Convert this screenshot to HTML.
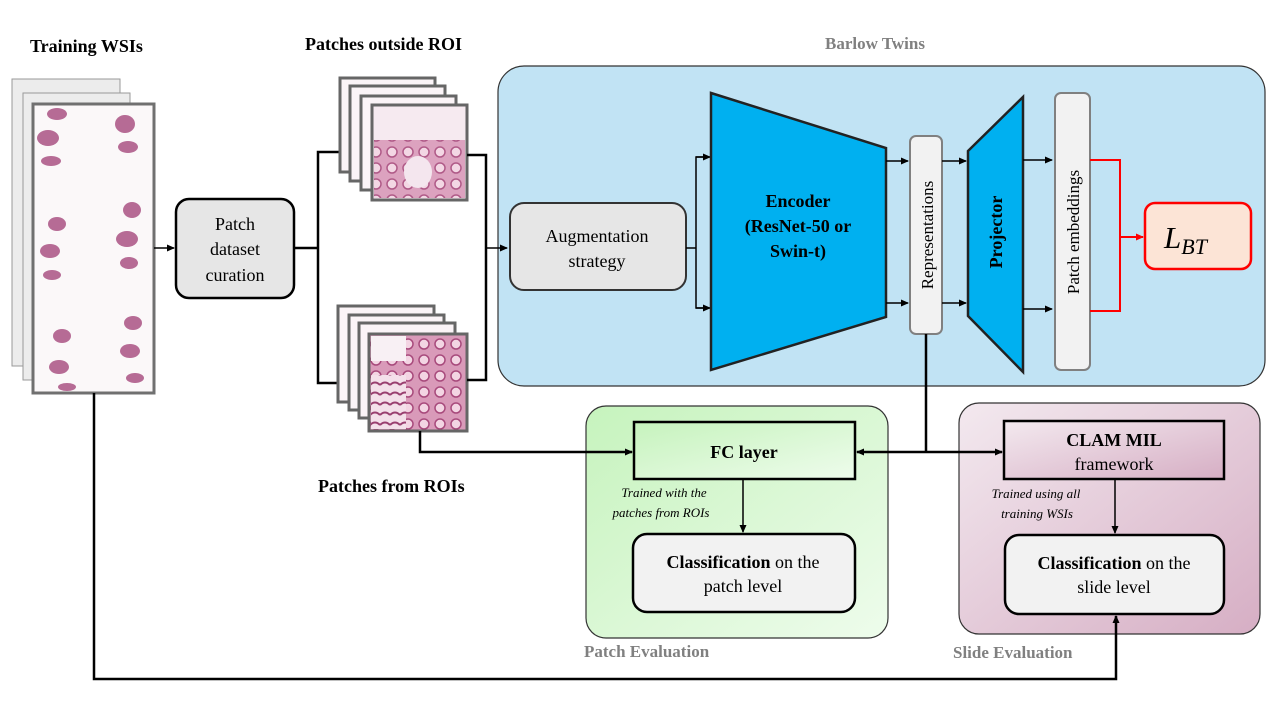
<!DOCTYPE html>
<html><head><meta charset="utf-8"><style>
html,body{margin:0;padding:0;background:#fff;}
svg text{font-family:"Liberation Serif",serif;}
</style></head><body>
<svg width="1280" height="720" viewBox="0 0 1280 720" xmlns="http://www.w3.org/2000/svg">
<defs>
<marker id="ar" markerWidth="8" markerHeight="8" refX="7" refY="4" orient="auto" markerUnits="userSpaceOnUse"><path d="M0,0.5 L8,4 L0,7.5 z" fill="#000"/></marker>
<marker id="arr" markerWidth="8" markerHeight="8" refX="7" refY="4" orient="auto" markerUnits="userSpaceOnUse"><path d="M0,0.5 L8,4 L0,7.5 z" fill="#f00"/></marker>
<linearGradient id="gg" x1="0" y1="0" x2="1" y2="1"><stop offset="0" stop-color="#c6f3bd"/><stop offset="1" stop-color="#eefcec"/></linearGradient>
<linearGradient id="gp" x1="0" y1="0" x2="1" y2="1"><stop offset="0" stop-color="#f3e9ef"/><stop offset="1" stop-color="#d6aec4"/></linearGradient>
<pattern id="tis" width="16" height="16" patternUnits="userSpaceOnUse"><rect width="16" height="16" fill="#d99ab9"/><circle cx="8" cy="8" r="5" fill="#f3d5e3" stroke="#a84a7c" stroke-width="1.5"/></pattern>
<pattern id="tis2" width="10" height="10" patternUnits="userSpaceOnUse"><rect width="10" height="10" fill="#f4e0ea"/><path d="M0,5 Q5,0 10,5" stroke="#9a3f70" fill="none" stroke-width="2"/></pattern>
</defs>

<text x="30" y="52" font-size="18" font-weight="bold">Training WSIs</text>
<text x="305" y="50" font-size="18" font-weight="bold">Patches outside ROI</text>
<text x="318" y="492" font-size="18" font-weight="bold">Patches from ROIs</text>
<text x="875" y="49" font-size="17" font-weight="bold" fill="#808080" text-anchor="middle">Barlow Twins</text>

<rect x="12" y="79" width="108" height="287" fill="#ececec" stroke="#999" stroke-width="1"/>
<rect x="23" y="93" width="107" height="287" fill="#ececec" stroke="#999" stroke-width="1"/>
<rect x="33" y="104" width="121" height="289" fill="#fbf8f9" stroke="#707070" stroke-width="3"/>
<g fill="#b66b95">
<ellipse cx="57" cy="114" rx="10" ry="6"/><ellipse cx="125" cy="124" rx="10" ry="9"/>
<ellipse cx="48" cy="138" rx="11" ry="8"/><ellipse cx="128" cy="147" rx="10" ry="6"/>
<ellipse cx="51" cy="161" rx="10" ry="5"/>
<ellipse cx="57" cy="224" rx="9" ry="7"/><ellipse cx="132" cy="210" rx="9" ry="8"/>
<ellipse cx="127" cy="239" rx="11" ry="8"/><ellipse cx="50" cy="251" rx="10" ry="7"/>
<ellipse cx="52" cy="275" rx="9" ry="5"/><ellipse cx="129" cy="263" rx="9" ry="6"/>
<ellipse cx="62" cy="336" rx="9" ry="7"/><ellipse cx="133" cy="323" rx="9" ry="7"/>
<ellipse cx="130" cy="351" rx="10" ry="7"/><ellipse cx="59" cy="367" rx="10" ry="7"/>
<ellipse cx="135" cy="378" rx="9" ry="5"/><ellipse cx="67" cy="387" rx="9" ry="4"/>
</g>
<line x1="154" y1="248" x2="174" y2="248" stroke="#000" stroke-width="1.5" marker-end="url(#ar)"/>

<rect x="176" y="199" width="118" height="99" rx="13" fill="#e6e6e6" stroke="#000" stroke-width="2.5"/>
<g font-size="18" text-anchor="middle"><text x="235" y="230">Patch</text><text x="235" y="255">dataset</text><text x="235" y="281">curation</text></g>

<polyline points="294,248 318,248" stroke="#000" stroke-width="2.5" fill="none"/>
<polyline points="372,152 318,152 318,383 372,383" stroke="#000" stroke-width="2.5" fill="none"/>

<g stroke="#666" stroke-width="3">
<rect x="340" y="78" width="95" height="94" fill="#fbf4f7"/>
<rect x="350" y="86" width="95" height="95" fill="#fbf4f7"/>
<rect x="361" y="96" width="95" height="94" fill="#fbf4f7"/>
<rect x="372" y="105" width="95" height="95" fill="#f6eaf0"/>
</g>
<rect x="374" y="140" width="91" height="58" fill="url(#tis)" opacity="0.9"/>
<ellipse cx="418" cy="172" rx="14" ry="16" fill="#f4e6ee"/>
<g stroke="#666" stroke-width="3">
<rect x="338" y="306" width="96" height="96" fill="#fbf4f7"/>
<rect x="349" y="315" width="95" height="95" fill="#fbf4f7"/>
<rect x="359" y="323" width="96" height="95" fill="#fbf4f7"/>
<rect x="369" y="334" width="98" height="97" fill="url(#tis)"/>
</g>
<rect x="371" y="336" width="35" height="25" fill="#f8f0f4"/>
<rect x="371" y="375" width="35" height="54" fill="url(#tis2)"/>
<polyline points="467,155 486,155 486,380 467,380" stroke="#000" stroke-width="2.5" fill="none"/>

<rect x="498" y="66" width="767" height="320" rx="26" fill="#c1e3f4" stroke="#333" stroke-width="1.2"/>
<line x1="486" y1="248" x2="507" y2="248" stroke="#000" stroke-width="1.5" marker-end="url(#ar)"/>
<rect x="510" y="203" width="176" height="87" rx="14" fill="#e6e6e6" stroke="#333" stroke-width="2"/>
<g font-size="18" text-anchor="middle"><text x="597" y="242">Augmentation</text><text x="597" y="267">strategy</text></g>
<polyline points="686,248 696,248" stroke="#000" stroke-width="1.5" fill="none"/>
<polyline points="709,157 696,157 696,308 709,308" stroke="#000" stroke-width="1.5" fill="none"/>
<line x1="696" y1="157" x2="710" y2="157" stroke="#000" stroke-width="1.5" marker-end="url(#ar)"/>
<line x1="696" y1="308" x2="710" y2="308" stroke="#000" stroke-width="1.5" marker-end="url(#ar)"/>

<polygon points="711,93 886,148 886,317 711,370" fill="#00b0f0" stroke="#222" stroke-width="2.5"/>
<g font-size="18" font-weight="bold" text-anchor="middle"><text x="798" y="207">Encoder</text><text x="798" y="232">(ResNet-50 or</text><text x="798" y="257">Swin-t)</text></g>

<line x1="886" y1="161" x2="908" y2="161" stroke="#000" stroke-width="1.5" marker-end="url(#ar)"/>
<line x1="886" y1="303" x2="908" y2="303" stroke="#000" stroke-width="1.5" marker-end="url(#ar)"/>
<rect x="910" y="136" width="32" height="198" rx="6" fill="#f2f2f2" stroke="#808080" stroke-width="2"/>
<text transform="translate(933,235) rotate(-90)" font-size="17" text-anchor="middle">Representations</text>
<line x1="942" y1="161" x2="966" y2="161" stroke="#000" stroke-width="1.5" marker-end="url(#ar)"/>
<line x1="942" y1="303" x2="966" y2="303" stroke="#000" stroke-width="1.5" marker-end="url(#ar)"/>
<polygon points="968,151 1023,97 1023,372 968,316" fill="#00b0f0" stroke="#222" stroke-width="2.5"/>
<text transform="translate(1002,232) rotate(-90)" font-size="18" font-weight="bold" text-anchor="middle">Projector</text>
<line x1="1023" y1="160" x2="1052" y2="160" stroke="#000" stroke-width="1.5" marker-end="url(#ar)"/>
<line x1="1023" y1="309" x2="1052" y2="309" stroke="#000" stroke-width="1.5" marker-end="url(#ar)"/>
<rect x="1055" y="93" width="35" height="277" rx="6" fill="#f2f2f2" stroke="#808080" stroke-width="2"/>
<text transform="translate(1079,232) rotate(-90)" font-size="17" text-anchor="middle">Patch embeddings</text>
<polyline points="1090,160 1120,160 1120,311 1090,311" stroke="#f00" stroke-width="2" fill="none"/>
<line x1="1120" y1="237" x2="1143" y2="237" stroke="#f00" stroke-width="2" marker-end="url(#arr)"/>
<rect x="1145" y="203" width="106" height="66" rx="10" fill="#fce4d6" stroke="#f00" stroke-width="2.5"/>
<text x="1164" y="248" font-size="31" font-style="italic">L<tspan font-size="22" dy="6">BT</tspan></text>

<rect x="586" y="406" width="302" height="232" rx="20" fill="url(#gg)" stroke="#333" stroke-width="1.2"/>
<text x="584" y="657" font-size="17" font-weight="bold" fill="#808080">Patch Evaluation</text>
<rect x="634" y="422" width="221" height="57" fill="url(#gg)" stroke="#000" stroke-width="2.5"/>
<text x="744" y="458" font-size="18" font-weight="bold" text-anchor="middle">FC layer</text>
<line x1="743" y1="479" x2="743" y2="532" stroke="#000" stroke-width="1.5" marker-end="url(#ar)"/>
<g font-size="13" font-style="italic" text-anchor="middle"><text x="664" y="497">Trained with the</text><text x="661" y="517">patches from ROIs</text></g>
<rect x="633" y="534" width="222" height="78" rx="14" fill="#f2f2f2" stroke="#000" stroke-width="2.5"/>
<g font-size="18" text-anchor="middle"><text x="743" y="568"><tspan font-weight="bold">Classification</tspan> on the</text><text x="743" y="592">patch level</text></g>

<rect x="959" y="403" width="301" height="231" rx="20" fill="url(#gp)" stroke="#333" stroke-width="1.2"/>
<text x="953" y="658" font-size="17" font-weight="bold" fill="#808080">Slide Evaluation</text>
<rect x="1004" y="421" width="220" height="58" fill="url(#gp)" stroke="#000" stroke-width="2.5"/>
<g text-anchor="middle" font-size="18"><text x="1114" y="446" font-weight="bold">CLAM MIL</text><text x="1114" y="470">framework</text></g>
<line x1="1115" y1="479" x2="1115" y2="533" stroke="#000" stroke-width="1.5" marker-end="url(#ar)"/>
<g font-size="13" font-style="italic" text-anchor="middle"><text x="1036" y="498">Trained  using all</text><text x="1037" y="518">training WSIs</text></g>
<rect x="1005" y="535" width="219" height="79" rx="14" fill="#f2f2f2" stroke="#000" stroke-width="2.5"/>
<g font-size="18" text-anchor="middle"><text x="1114" y="569"><tspan font-weight="bold">Classification</tspan> on the</text><text x="1114" y="593">slide level</text></g>

<polyline points="420,431 420,452 632,452" stroke="#000" stroke-width="2.5" fill="none" marker-end="url(#ar)"/>
<line x1="926" y1="334" x2="926" y2="452" stroke="#000" stroke-width="2.5"/>
<line x1="926" y1="452" x2="857" y2="452" stroke="#000" stroke-width="2.5" marker-end="url(#ar)"/>
<line x1="926" y1="452" x2="1002" y2="452" stroke="#000" stroke-width="2.5" marker-end="url(#ar)"/>
<polyline points="94,393 94,679 1116,679 1116,616" stroke="#000" stroke-width="2.5" fill="none" marker-end="url(#ar)"/>
</svg>
</body></html>
